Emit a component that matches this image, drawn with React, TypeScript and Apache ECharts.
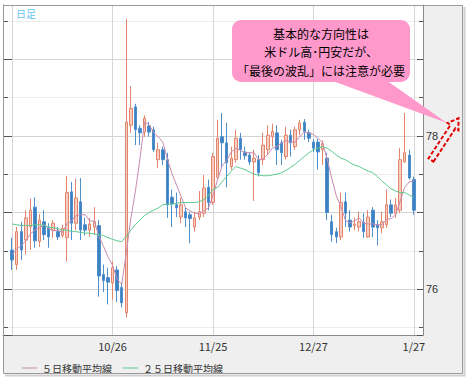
import { useEffect, useRef } from 'react';
import * as echarts from 'echarts';

const dates = ['9/26','9/27','9/28','9/29','9/30','10/3','10/4','10/5','10/6','10/7','10/10','10/11','10/12','10/13','10/14','10/17','10/18','10/19','10/20','10/21','10/24','10/25','10/26','10/27','10/28','10/31','11/1','11/2','11/3','11/4','11/7','11/8','11/9','11/10','11/11','11/14','11/15','11/16','11/17','11/18','11/21','11/22','11/23','11/24','11/25','11/28','11/29','11/30','12/1','12/2','12/5','12/6','12/7','12/8','12/9','12/12','12/13','12/14','12/15','12/16','12/19','12/20','12/21','12/22','12/23','12/26','12/27','12/28','12/29','12/30','1/3','1/4','1/5','1/6','1/9','1/10','1/11','1/12','1/13','1/16','1/17','1/18','1/19','1/20','1/23','1/24','1/25','1/26','1/27'];

const opens = [76.51,76.32,76.75,76.64,76.81,77.07,76.62,76.88,76.80,76.77,76.75,76.70,76.67,77.27,76.86,77.14,76.84,76.77,76.81,76.83,76.19,76.15,76.08,76.25,76.02,75.69,78.14,78.38,78.10,78.05,78.13,78.08,77.69,77.82,77.69,77.20,77.10,76.94,77.01,76.97,76.81,76.94,76.99,77.33,77.13,77.46,77.99,77.91,77.60,77.69,77.97,77.79,77.75,77.66,77.69,77.69,77.82,77.99,78.04,77.91,77.73,78.01,77.86,78.08,78.18,78.04,77.92,77.92,77.82,77.71,76.88,76.75,76.68,77.14,76.90,76.83,76.81,76.87,76.68,77.03,76.84,76.80,76.84,77.10,76.99,77.03,77.66,77.75,77.43];
const closes = [76.38,76.75,76.51,76.93,77.03,76.63,76.90,76.71,76.68,76.86,76.68,76.79,77.26,76.86,77.19,76.77,76.77,76.85,76.88,76.17,76.11,76.09,76.28,75.98,75.82,78.18,78.36,78.08,78.04,78.23,78.05,77.82,77.82,77.69,77.10,77.11,77.06,77.10,76.93,76.92,76.93,77.01,77.32,77.13,77.73,77.97,77.91,77.65,77.71,77.97,77.82,77.74,77.66,77.71,77.52,77.88,78.01,78.06,77.82,77.78,78.01,77.91,78.08,78.17,78.06,77.97,77.84,77.79,77.90,77.00,76.71,76.68,77.13,76.99,76.81,76.85,76.88,76.75,76.94,76.81,76.80,76.88,77.10,76.99,77.10,77.69,77.78,77.45,77.03];
const highs = [76.67,76.81,76.88,77.03,77.18,77.20,76.98,77.03,76.86,76.90,76.81,76.84,77.48,77.40,77.44,77.45,76.93,76.93,77.07,76.90,76.32,76.28,76.36,76.30,76.08,79.53,78.65,78.42,78.14,78.27,78.18,78.12,77.91,77.86,77.78,77.30,77.26,77.19,77.06,77.01,77.01,77.28,77.49,77.43,77.78,78.21,78.30,78.17,77.86,78.08,78.04,77.86,77.79,77.82,77.75,78.04,78.14,78.16,78.14,77.95,78.12,78.08,78.12,78.21,78.22,78.08,77.96,77.96,77.94,77.78,76.97,76.80,77.26,77.26,77.03,76.93,77.01,76.99,77.03,77.07,76.90,77.01,77.30,77.17,77.19,77.84,78.30,77.82,77.47];
const lows = [76.25,76.25,76.38,76.45,76.51,76.54,76.55,76.64,76.54,76.67,76.64,76.67,76.36,76.64,76.77,76.64,76.70,76.68,76.71,75.90,75.96,75.80,75.86,75.83,75.76,75.63,78.04,77.88,77.88,77.99,77.99,77.79,77.58,77.62,76.93,76.81,76.94,76.86,76.81,76.60,76.75,76.90,76.94,77.03,77.10,77.43,77.58,77.33,77.56,77.65,77.69,77.69,77.62,77.15,77.47,77.62,77.75,77.86,77.62,77.62,77.69,77.73,77.82,78.01,77.95,77.92,77.79,77.56,77.62,76.90,76.62,76.60,76.64,76.81,76.75,76.77,76.75,76.67,76.67,76.68,76.57,76.73,76.80,76.94,76.93,76.99,77.65,77.43,76.97];

const ma5 = [76.45,76.52,76.57,76.63,76.72,76.77,76.80,76.84,76.79,76.76,76.77,76.74,76.85,76.89,76.96,76.97,76.97,76.89,76.89,76.69,76.56,76.42,76.31,76.13,76.06,76.47,76.92,77.28,77.70,78.18,78.15,78.04,77.99,77.92,77.70,77.51,77.36,77.21,77.06,77.02,76.99,76.98,77.02,77.06,77.22,77.43,77.61,77.68,77.79,77.84,77.81,77.78,77.78,77.78,77.69,77.70,77.76,77.84,77.86,77.91,77.94,77.92,77.92,77.99,78.05,78.04,78.02,77.97,77.91,77.70,77.45,77.22,77.08,76.90,76.86,76.89,76.93,76.86,76.85,76.85,76.84,76.84,76.91,76.92,76.97,77.15,77.33,77.40,77.41];
const ma25 = [76.85,76.84,76.83,76.83,76.83,76.84,76.84,76.83,76.81,76.80,76.79,76.77,76.77,76.75,76.75,76.74,76.73,76.73,76.72,76.71,76.70,76.67,76.65,76.63,76.62,76.69,76.77,76.84,76.90,76.96,77.00,77.03,77.06,77.10,77.11,77.11,77.12,77.13,77.13,77.13,77.13,77.14,77.17,77.22,77.30,77.33,77.40,77.47,77.54,77.60,77.58,77.56,77.53,77.50,77.49,77.48,77.48,77.49,77.50,77.52,77.55,77.59,77.63,77.68,77.73,77.78,77.82,77.84,77.86,77.84,77.80,77.75,77.71,77.69,77.65,77.62,77.60,77.57,77.54,77.52,77.47,77.41,77.36,77.31,77.28,77.26,77.26,77.23,77.19];

const labelDates = ['10/26', '11/25', '12/27', '1/27'];
const gridDates = ['9/26', '10/26', '11/25', '12/27', '1/27'];
const yLabelValues = [76, 78];
const seriesNames = ['５日移動平均線', '２５日移動平均線'];
const chartTag = '日足';
const calloutLines = ['基本的な方向性は', '米ドル高･円安だが、', '「最後の波乱」には注意が必要'];

export default function App() {
  const ref = useRef<HTMLDivElement>(null);
  useEffect(() => {
    document.body.style.margin = '0';
    const chart = echarts.init(ref.current!, null, { renderer: 'svg' });
    const font = '"Noto Sans CJK JP", "Noto Sans", sans-serif';
    const candles = dates.map((_, i) => [opens[i], closes[i], lows[i], highs[i]]);
    const yCommon = {
      type: 'value',
      min: 75.4,
      max: 79.71,
      splitNumber: 4,
      minInterval: 1,
      maxInterval: 1,
      scale: true,
    };
    const S = [431, 160];
    const u = [0.55, -0.835];
    const n = [0.835, 0.55];
    const pt = (along: number, side: number) => [S[0] + u[0] * along + n[0] * side, S[1] + u[1] * along + n[1] * side];
    const arrowPts = [pt(0, 3), pt(40, 3), pt(40, 6.5), pt(50, 0), pt(40, -6.5), pt(40, -3), pt(0, -3)];

    chart.setOption({
      animation: false,
      backgroundColor: '#ffffff',
      textStyle: { fontFamily: font },
      grid: { left: 3, right: 45, top: 5, bottom: 45, show: true, backgroundColor: '#ffffff', borderWidth: 0 },
      legend: {
        data: seriesNames,
        left: 17,
        top: 358,
        icon: 'rect',
        itemWidth: 15,
        itemHeight: 1,
        itemGap: 11,
        textStyle: { fontSize: 10, color: '#333', fontFamily: font },
      },
      xAxis: {
        type: 'category',
        data: dates,
        boundaryGap: false,
        min: -2,
        max: 90,
        axisLine: { show: true, lineStyle: { color: '#8a8a8a' } },
        axisTick: { show: false },
        axisLabel: {
          interval: (_i: number, v: string) => labelDates.includes(v),
          color: '#333',
          fontSize: 11,
          margin: 5,
          fontFamily: font,
        },
        splitLine: {
          show: true,
          interval: (_i: number, v: string) => gridDates.includes(v),
          lineStyle: { color: '#d6d6d6' },
        },
      },
      yAxis: [
        {
          ...yCommon,
          position: 'right',
          axisLine: { show: true, lineStyle: { color: '#8a8a8a' } },
          axisTick: { show: true, inside: true, length: 6, lineStyle: { color: '#555' } },
          minorTick: { show: true, splitNumber: 2, length: 4, lineStyle: { color: '#555' } },
          axisLabel: {
            formatter: (v: number) => (yLabelValues.includes(v) ? String(v) : ''),
            color: '#333',
            fontSize: 11,
            margin: 3,
            fontFamily: 'Liberation Sans, Arial, sans-serif',
            showMinLabel: false,
            showMaxLabel: false,
          },
          splitLine: { show: true, lineStyle: { color: '#d4d4d4' } },
          minorSplitLine: { show: true, lineStyle: { color: '#ececec' } },
        },
        {
          ...yCommon,
          position: 'left',
          axisLine: { show: true, lineStyle: { color: '#8a8a8a' } },
          axisTick: { show: true, inside: true, length: 9, lineStyle: { color: '#555' } },
          minorTick: { show: true, splitNumber: 2, length: 5, lineStyle: { color: '#555' } },
          axisLabel: { show: false },
          splitLine: { show: false },
        },
      ],
      series: [
        {
          type: 'candlestick',
          name: chartTag,
          data: candles,
          barWidth: 3,
          itemStyle: {
            color: '#f6cdc1',
            color0: '#3b80c0',
            borderColor: '#e3846c',
            borderColor0: '#4f8fcb',
            borderWidth: 1,
          },
        },
        {
          type: 'line',
          name: seriesNames[0],
          data: ma5,
          symbol: 'none',
          lineStyle: { color: '#c98bb0', width: 1 },
          itemStyle: { color: '#c98bb0' },
        },
        {
          type: 'line',
          name: seriesNames[1],
          data: ma25,
          symbol: 'none',
          lineStyle: { color: '#5ccb8e', width: 1 },
          itemStyle: { color: '#5ccb8e' },
        },
      ],
      graphic: [
        {
          type: 'rect',
          z: -10,
          silent: true,
          shape: { x: 3.5, y: 5.5, width: 459, height: 368 },
          style: { fill: '#efefef', stroke: 'none' },
        },
        {
          type: 'polyline',
          z: -10,
          silent: true,
          shape: { points: [[464.5, 7], [464.5, 375.5], [5, 375.5]] },
          style: { stroke: '#cfcfcf', lineWidth: 2, fill: 'none' },
        },
        {
          type: 'rect',
          z: 50,
          silent: true,
          shape: { x: 3.5, y: 5.5, width: 459, height: 368 },
          style: { fill: 'none', stroke: '#9a9a9a', lineWidth: 1 },
        },
        {
          type: 'text',
          z: 50,
          x: 16,
          y: 8,
          style: { text: chartTag, fill: '#66c6ef', fontSize: 10, fontFamily: font },
        },
        {
          type: 'polygon',
          z: 60,
          shape: { points: [[330, 80], [386, 80], [447, 123]] },
          style: { fill: '#ff99cc' },
        },
        {
          type: 'rect',
          z: 60,
          shape: { x: 232, y: 20, width: 178, height: 62, r: 9 },
          style: { fill: '#ff99cc' },
        },
        ...calloutLines.map((t, k) => ({
          type: 'text',
          z: 61,
          x: 321,
          y: 33 + k * 18.5,
          style: {
            text: t,
            fill: '#000',
            fontSize: 12,
            fontFamily: font,
            align: 'center',
            verticalAlign: 'middle',
          },
        })),
        {
          type: 'polygon',
          z: 60,
          shape: { points: arrowPts },
          style: { fill: 'none', stroke: '#e00000', lineWidth: 2, lineDash: [4, 2] },
        },
      ],
    });
    return () => chart.dispose();
  }, []);
  return <div ref={ref} style={{ width: 468, height: 380 }} />;
}
